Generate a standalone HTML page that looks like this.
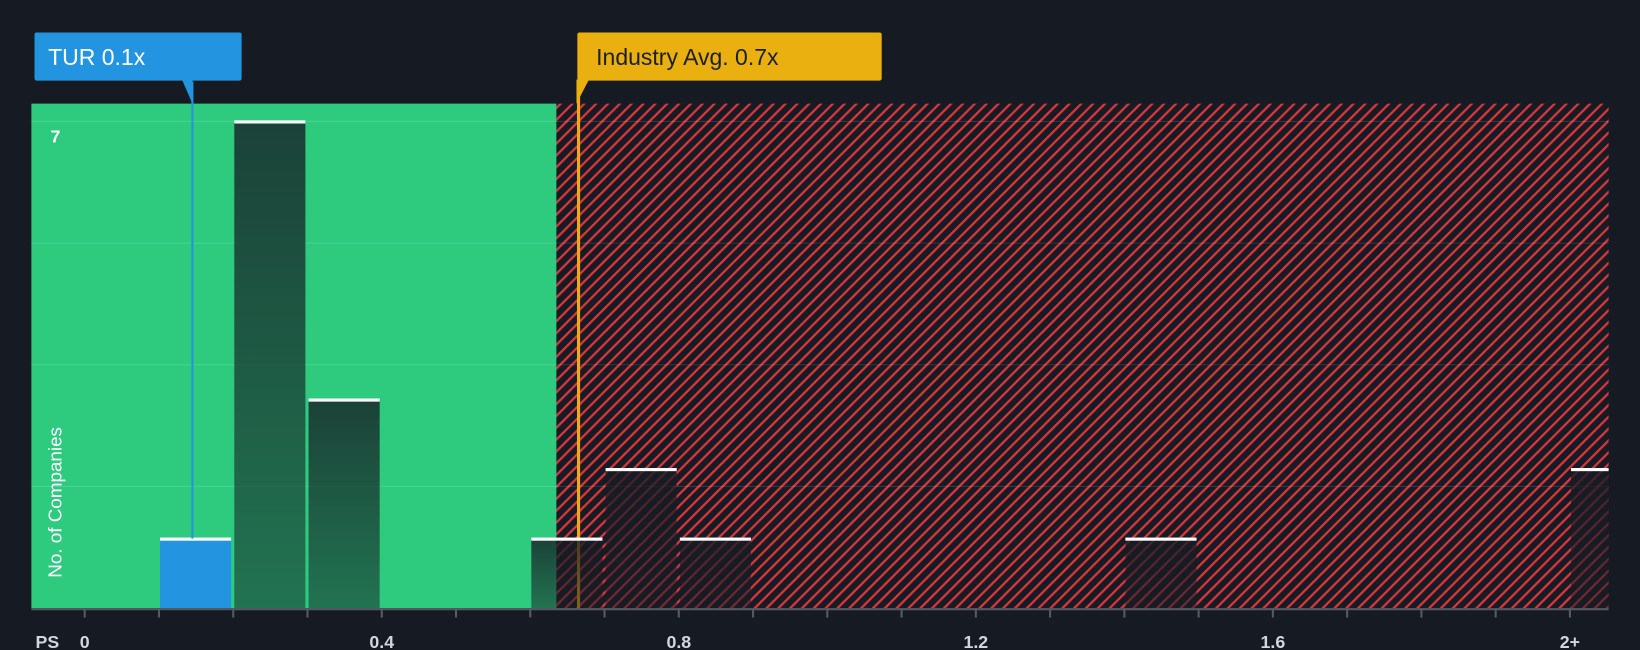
<!DOCTYPE html>
<html><head><meta charset="utf-8"><style>
html,body{margin:0;padding:0;background:#151a23;}
svg{display:block;font-family:"Liberation Sans",Arial,sans-serif;}
</style></head><body>
<svg width="1640" height="650" viewBox="0 0 1568 621" preserveAspectRatio="none">
<defs>
<pattern id="hatch" patternUnits="userSpaceOnUse" width="8" height="8" patternTransform="rotate(45)">
<rect width="8" height="8" fill="#161b24"/>
<rect x="0" y="0" width="2.2" height="8" fill="#d9363c"/>
</pattern>
<linearGradient id="barg" x1="0" y1="0" x2="0" y2="1">
<stop offset="0" stop-color="#161b24" stop-opacity="0.78"/>
<stop offset="1" stop-color="#161b24" stop-opacity="0.5"/>
</linearGradient>
</defs>
<rect x="0" y="0" width="1568" height="621" fill="#151a23"/>
<g id="plot"></g>
</svg>
<script>
const categories=["0.1","0.2","0.3","0.6","0.7","0.8","1.4","2.0"];
const binStarts=[0.1,0.2,0.3,0.6,0.7,0.8,1.4,2.0];
const counts=[1,7,3,1,2,1,1,2];
const tickValues=[0,0.4,0.8,1.2,1.6,2.0];
const tickLabels=["0","0.4","0.8","1.2","1.6","2+"];
const companyValue=[0.145];
const industryAvg=[0.665];
const NS="http://www.w3.org/2000/svg";
const g=document.getElementById('plot');
const L=30,R=1538,T=99,B=581;
const x=v=>81+v*710;
const y=v=>B-v*(465/7);
function mk(t,a,p){const e=document.createElementNS(NS,t);for(const k in a)e.setAttribute(k,a[k]);(p||g).appendChild(e);return e;}
const split=532;
let e;
e=mk('rect',{x:L,y:T,width:split-L,height:B-T,fill:'#2ecb7f'});


e=mk('rect',{x:split,y:T,width:R-split,height:B-T,fill:'url(#hatch)'});


[1.75,3.5,5.25,7].forEach(v=>{e=mk('line',{x1:L,x2:R,y1:y(v),y2:y(v),stroke:'rgba(255,255,255,0.13)','stroke-width':1});

});
const ix=x(industryAvg[0]);
e=mk('line',{x1:ix,x2:ix,y1:78,y2:B,stroke:'#f0a818','stroke-width':3});


binStarts.forEach((s,i)=>{
 const x0=x(s)+1,w=x(s+0.1)-x(s)-3,x1=Math.min(x0+w,R)-x0,top=y(counts[i]);
 const isTur=companyValue[0]>=s&&companyValue[0]<s+0.1;
 e=mk('rect',{x:x0,y:top,width:x1,height:B-top,fill:isTur?'#2394e0':'url(#barg)'});
 
 
 e=mk('rect',{x:x0,y:top-1,width:x1,height:3,fill:'#ffffff'});
 
 
});
const tx=x(companyValue[0]);
e=mk('line',{x1:tx,x2:tx,y1:78,y2:y(1),stroke:'#2394e0','stroke-width':2});


e=mk('line',{x1:L,x2:R,y1:B+1,y2:B+1,stroke:'#555a63','stroke-width':2});


for(let v=0;v<=2.0001;v+=0.1){e=mk('line',{x1:x(v),x2:x(v),y1:B,y2:B+9,stroke:'#555a63','stroke-width':2});

}
tickValues.forEach((v,i)=>{e=mk('text',{x:x(v),y:619,'text-anchor':'middle','font-size':17,fill:'#d3d6db','font-weight':'bold'});e.textContent=tickLabels[i];

});
e=mk('text',{x:34,y:619,'font-size':17,fill:'#d3d6db','font-weight':'bold'});e.textContent='PS';


e=mk('text',{x:53,y:136,'font-size':17,fill:'#ffffff','font-weight':'bold','text-anchor':'middle'});e.textContent='7';


e=mk('text',{x:0,y:0,'font-size':18,fill:'#ffffff','text-anchor':'middle',transform:'translate(59,480) rotate(-90)'});e.textContent='No. of Companies';


e=mk('rect',{x:33,y:31,width:198,height:46,rx:2,fill:'#2394e0'});


e=mk('path',{d:`M${tx-10} 76 L${tx} 76 L${tx} 99 Z`,fill:'#2394e0'});


e=mk('text',{x:46,y:62,'font-size':22,fill:'#ffffff'});e.textContent='TUR 0.1x';


e=mk('rect',{x:552,y:31,width:291,height:46,rx:2,fill:'#e9b010'});


e=mk('path',{d:`M${ix-2} 76 L${ix+10} 76 L${ix-2} 99 Z`,fill:'#e9b010'});


e=mk('text',{x:570,y:62,'font-size':22,fill:'#1b1f27'});e.textContent='Industry Avg. 0.7x';


</script>
</body></html>
